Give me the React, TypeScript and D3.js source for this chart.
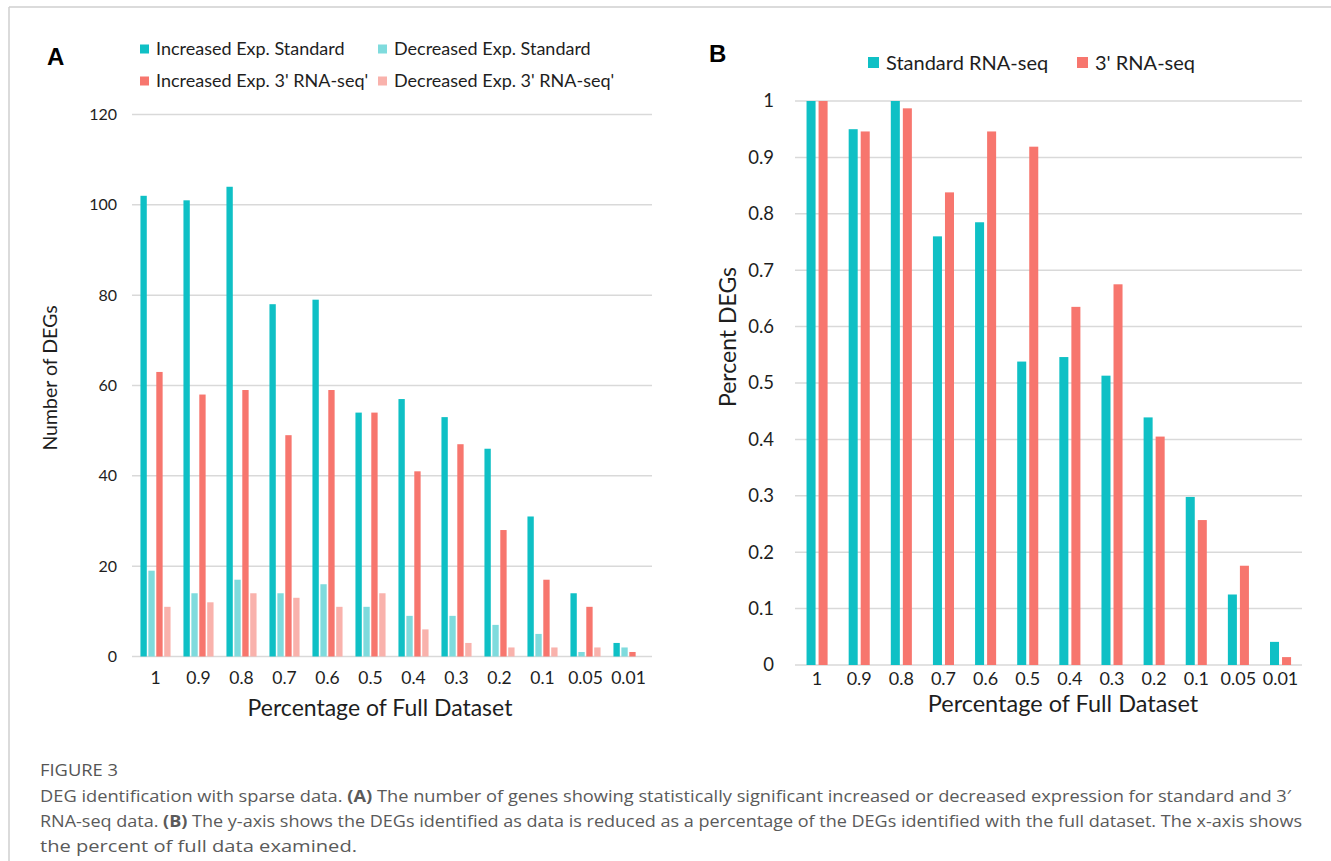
import React from 'react';
import * as d3 from 'd3';

const categories = ['1', '0.9', '0.8', '0.7', '0.6', '0.5', '0.4', '0.3', '0.2', '0.1', '0.05', '0.01'];

// Panel A: number of DEGs
const increasedStandard = [102, 101, 104, 78, 79, 54, 57, 53, 46, 31, 14, 3];
const decreasedStandard = [19, 14, 17, 14, 16, 11, 9, 9, 7, 5, 1, 2];
const increased3 = [63, 58, 59, 49, 59, 54, 41, 47, 28, 17, 11, 1];
const decreased3 = [11, 12, 14, 13, 11, 14, 6, 3, 2, 2, 2, 0];
const seriesANames = ['Increased Exp. Standard', 'Decreased Exp. Standard', "Increased Exp. 3' RNA-seq'", "Decreased Exp. 3' RNA-seq'"];
const yTicksA = [0, 20, 40, 60, 80, 100, 120];

// Panel B: percent DEGs
const standardPct = [1, 0.95, 1, 0.76, 0.785, 0.538, 0.546, 0.513, 0.439, 0.298, 0.125, 0.041];
const threePct = [1, 0.946, 0.987, 0.838, 0.946, 0.919, 0.635, 0.675, 0.405, 0.257, 0.176, 0.014];
const seriesBNames = ['Standard RNA-seq', "3' RNA-seq"];
const yTicksB = [0, 0.1, 0.2, 0.3, 0.4, 0.5, 0.6, 0.7, 0.8, 0.9, 1];

const colorsA = ['#0fc0c5', '#7fdbdd', '#f7766e', '#f9b2ac'];
const colorsB = ['#0fc0c5', '#f7766e'];
const FONT = 'Lato, "Open Sans", sans-serif';
const GRID = '#d9d9d9';
const INK = '#1e1e1e';

function PanelA() {
  const x = d3.scaleBand<string>().domain(categories).range([134, 650]).paddingInner(0.3).paddingOuter(0.15);
  const inner = d3.scaleBand<number>().domain([0, 1, 2, 3]).range([0, x.bandwidth()]).paddingInner(0.2);
  const y = d3.scaleLinear().domain([0, 120]).range([656.5, 114.5]);
  const series = [increasedStandard, decreasedStandard, increased3, decreased3];
  return (
    <g>
      <text x={47} y={65} fontFamily="Arial, sans-serif" fontWeight="bold" fontSize={24}>A</text>
      {seriesANames.map((name, i) => {
        const lx = i % 2 === 0 ? 140 : 378;
        const ly = i < 2 ? 49 : 81;
        return (
          <g key={name}>
            <rect x={lx} y={ly - 4.5} width={9} height={9} fill={colorsA[i]} />
            <text x={lx + 16} y={ly} dy="0.35em" fontFamily={FONT} fontSize={18} fill={INK}>{name}</text>
          </g>
        );
      })}
      {yTicksA.map(t => (
        <g key={t}>
          <line x1={132} x2={652} y1={y(t)} y2={y(t)} stroke={GRID} strokeWidth={1.5} />
          <text x={117} y={y(t)} dy="0.35em" textAnchor="end" fontFamily={FONT} fontSize={16} fill={INK}>{t}</text>
        </g>
      ))}
      {categories.map((c, ci) => (
        <g key={c} transform={`translate(${x(c)},0)`}>
          {series.map((s, si) => (
            <rect key={si} x={inner(si)} width={inner.bandwidth()} y={y(s[ci])} height={y(0) - y(s[ci])} fill={colorsA[si]} />
          ))}
        </g>
      ))}
      {categories.map(c => (
        <text key={c} x={(x(c) as number) + x.bandwidth() / 2} y={677.5} dy="0.35em" textAnchor="middle" fontFamily={FONT} fontSize={17.5} fill={INK}>{c}</text>
      ))}
      <text x={380} y={708} dy="0.35em" textAnchor="middle" fontFamily={FONT} fontSize={23} fill={INK}>Percentage of Full Dataset</text>
      <text transform={`translate(50,378) rotate(-90)`} dy="0.35em" textAnchor="middle" fontFamily={FONT} fontSize={19.5} fill={INK}>Number of DEGs</text>
    </g>
  );
}

function PanelB() {
  const x = d3.scaleBand<string>().domain(categories).range([796, 1301.6]).paddingInner(0.5).paddingOuter(0.25);
  const inner = d3.scaleBand<number>().domain([0, 1]).range([0, x.bandwidth()]).paddingInner(0.25);
  const y = d3.scaleLinear().domain([0, 1]).range([665, 101]);
  const series = [standardPct, threePct];
  const fmt = (v: number) => d3.format('')(+v.toFixed(1));
  return (
    <g>
      <text x={709} y={62} fontFamily="Arial, sans-serif" fontWeight="bold" fontSize={24}>B</text>
      {seriesBNames.map((name, i) => {
        const lx = i === 0 ? 868 : 1077;
        return (
          <g key={name}>
            <rect x={lx} y={57} width={11} height={11} fill={colorsB[i]} />
            <text x={lx + 18} y={63} dy="0.35em" fontFamily={FONT} fontSize={20} fill={INK}>{name}</text>
          </g>
        );
      })}
      {yTicksB.map(t => (
        <g key={t}>
          <line x1={795} x2={1302} y1={y(t)} y2={y(t)} stroke={GRID} strokeWidth={1.5} />
          <text x={774} y={y(t)} dy="0.35em" textAnchor="end" fontFamily={FONT} fontSize={18.5} fill={INK}>{fmt(t)}</text>
        </g>
      ))}
      {categories.map((c, ci) => (
        <g key={c} transform={`translate(${x(c)},0)`}>
          {series.map((s, si) => (
            <rect key={si} x={inner(si)} width={inner.bandwidth()} y={y(s[ci])} height={y(0) - y(s[ci])} fill={colorsB[si]} />
          ))}
        </g>
      ))}
      {categories.map(c => (
        <text key={c} x={(x(c) as number) + x.bandwidth() / 2} y={679} dy="0.35em" textAnchor="middle" fontFamily={FONT} fontSize={18} fill={INK}>{c}</text>
      ))}
      <text x={1063} y={704} dy="0.35em" textAnchor="middle" fontFamily={FONT} fontSize={23.5} fill={INK}>Percentage of Full Dataset</text>
      <text transform={`translate(728,337) rotate(-90)`} dy="0.35em" textAnchor="middle" fontFamily={FONT} fontSize={23} fill={INK}>Percent DEGs</text>
    </g>
  );
}

function Caption() {
  const cf = '"Liberation Sans Narrow", "Open Sans", sans-serif';
  const col = '#5a5a5a';
  return (
    <g fontFamily={cf} fontSize={16} fill={col}>
      <text x={40} y={776} textLength={78} lengthAdjust="spacingAndGlyphs" fill="#555">FIGURE 3</text>
      <text x={40} y={802} textLength={1251} lengthAdjust="spacingAndGlyphs">
        DEG identification with sparse data. <tspan fontWeight="bold">(A)</tspan> The number of genes showing statistically significant increased or decreased expression for standard and 3′
      </text>
      <text x={40} y={827} textLength={1262} lengthAdjust="spacingAndGlyphs">
        RNA-seq data. <tspan fontWeight="bold">(B)</tspan> The y-axis shows the DEGs identified as data is reduced as a percentage of the DEGs identified with the full dataset. The x-axis shows
      </text>
      <text x={40} y={852} textLength={317} lengthAdjust="spacingAndGlyphs">the percent of full data examined.</text>
    </g>
  );
}

export default function App() {
  return (
    <svg width={1331} height={861} style={{ position: 'absolute', left: 0, top: 0, background: '#fff' }}>
      <rect x={0} y={0} width={1331} height={861} fill="#fff" />
      <line x1={9} x2={1331} y1={7} y2={7} stroke="#cfcfcf" strokeWidth={1.5} />
      <line x1={9} x2={9} y1={7} y2={861} stroke="#cfcfcf" strokeWidth={1.5} />
      <PanelA />
      <PanelB />
      <Caption />
    </svg>
  );
}
